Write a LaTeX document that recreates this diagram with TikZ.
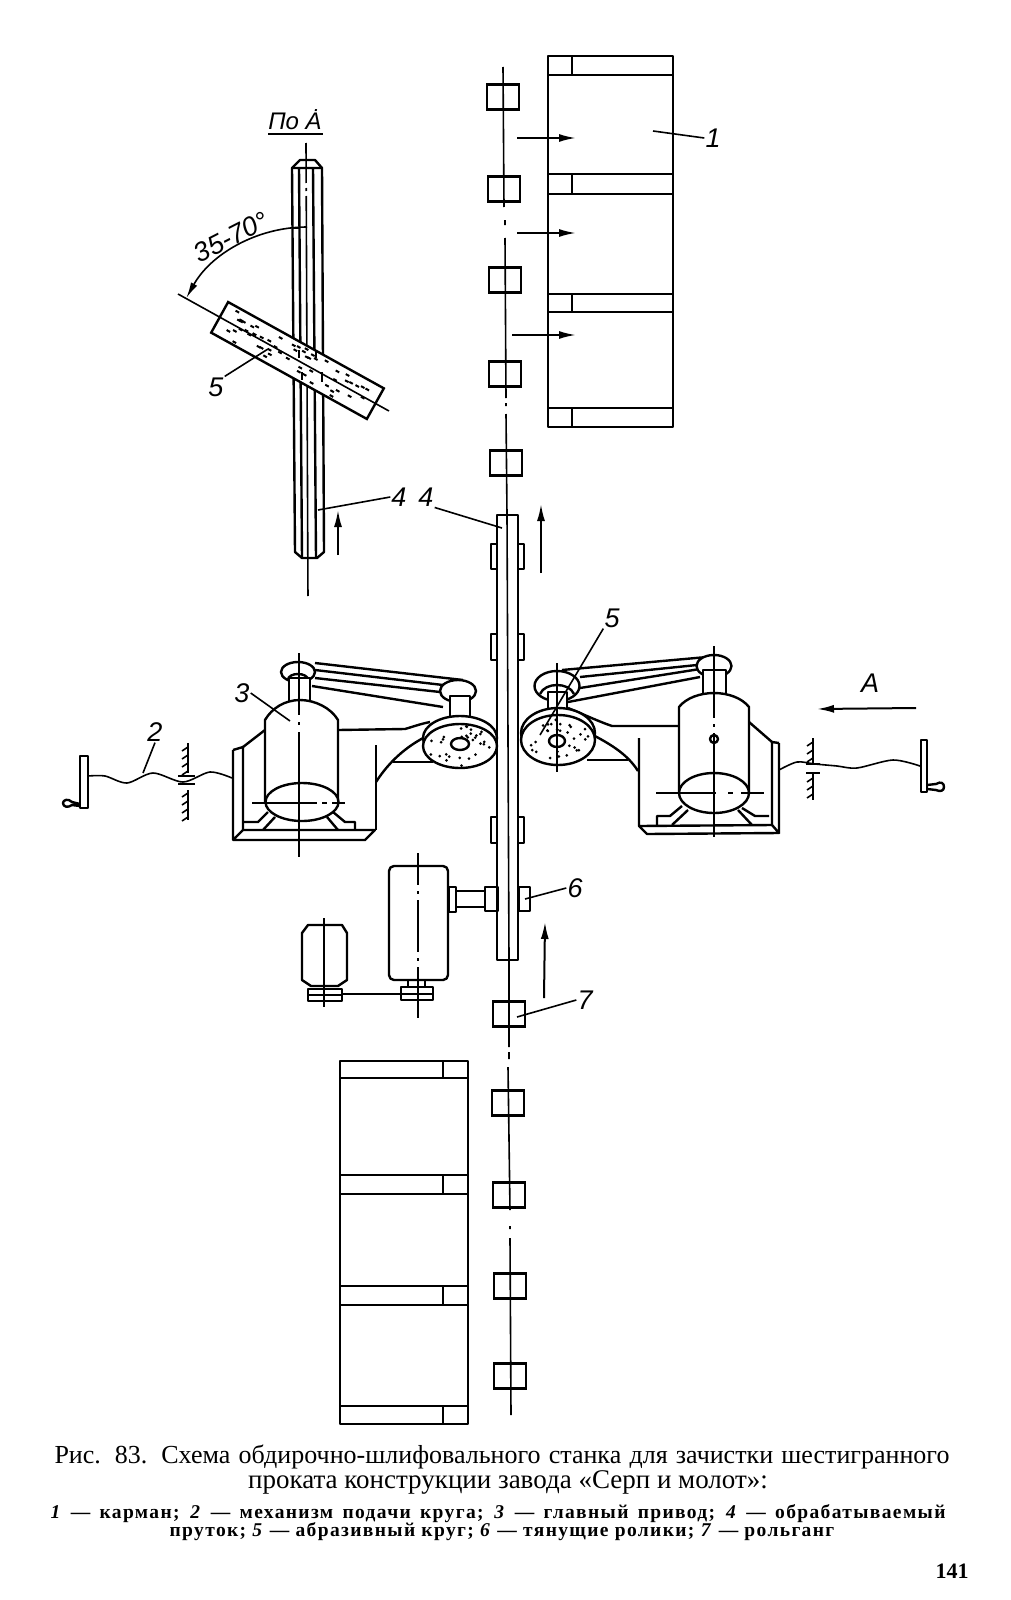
\documentclass[tikz,border=0pt]{standalone}
\usepackage{fontspec}
\setmainfont{Liberation Serif}
\newfontfamily\lblfont{Liberation Sans}
\newfontfamily\legfont[LetterSpace=7]{Liberation Serif}
\usetikzlibrary{arrows.meta}
\tikzstyle{part}=[line width=2.4pt,line join=round]
\tikzstyle{thin part}=[line width=1.6pt,line join=round]
\tikzstyle{roller}=[draw,line width=2.4pt,inner sep=0pt,minimum width=32pt,minimum height=25pt]
\tikzstyle{lbl}=[inner sep=1pt,font=\lblfont\itshape\fontsize{27}{27}\selectfont]
\tikzstyle{feed}=[-{Latex[length=17pt,width=8pt]},line width=2pt]
\newcommand{\grains}[4]{% centre x, centre y, half x, count
	\foreach \g in {1,...,#4}{
		\pgfmathsetmacro\ga{rnd*360}
		\pgfmathsetmacro\gr{.42+.55*rnd}
		\fill ({#1+#3*\gr*cos(\ga)},{#2+.62*#3*\gr*sin(\ga)}) circle (1.5pt);
	}
}
\begin{document}
\begin{tikzpicture}[x=1pt,y=-1pt]
	\useasboundingbox (0,0) rectangle (1010,1600);
	\pgfmathsetseed{83}
	% upper pockets
	\draw[part] (548,56) rectangle (673,427);
	\foreach \ya/\yb in {56/75,174/194,294/312,408/427}{
		\draw[part] (548,\ya) -- (673,\ya) (548,\yb) -- (673,\yb) (572,\ya) -- (572,\yb);
	}
	% lower pockets
	\draw[part] (340,1061) rectangle (468,1424);
	\foreach \ya/\yb in {1061/1078,1175/1194,1286/1305,1406/1424}{
		\draw[part] (340,\ya) -- (468,\ya) (340,\yb) -- (468,\yb) (443,\ya) -- (443,\yb);
	}
	% roller table
	\draw[thin part] (503,67) -- (504,207) (505,220) -- (505,225) (505,238) -- (506,398) (506,403) -- (506,406) (506,414) -- (507,515);
	\draw[thin part] (509,960) -- (509,1047) (509,1052) -- (509,1059) (508,1067) -- (510,1210) (510,1226) -- (510,1229) (510,1238) -- (511,1415);
	\foreach \n/\x/\y in {a/503/97,b/504/189,c/505/280,d/505/374,e/506/463,f/509/1014,g/508/1103,h/509/1195,i/510/1286,j/510/1376}{
		\node[roller] (roll\n) at (\x,\y) {};
	}
	% bar and its pads
	\draw[part,fill=white] (497,515) rectangle (518,960);
	\draw[thin part] (507,515) -- (509,960);
	\foreach \ya/\yb in {544/569,634/660,817/843}{
		\draw[part] (497,\ya) -- (491,\ya) -- (491,\yb) -- (497,\yb);
		\draw[part] (518,\ya) -- (524,\ya) -- (524,\yb) -- (518,\yb);
	}
	\draw[part] (485,887) rectangle (498,911);
	\draw[part] (519,887) rectangle (530,911);
	\draw[part] (456,891) rectangle (485,907);
	\draw[part] (449,887) rectangle (456,912);
	% drive under the bar
	\draw[part,rounded corners=5pt] (389,866) rectangle (448,980);
	\draw[part] (408,980) -- (408,987) (425,980) -- (425,987);
	\draw[part] (401,987) rectangle (433,1000);
	\draw[part] (401,994) -- (433,994);
	\draw[thin part,dash pattern=on 32pt off 6pt on 3pt off 6pt on 52pt off 6pt on 3pt off 6pt on 200pt] (418,853) -- (418,1018);
	\draw[part] (302,933) -- (308,925) -- (342,925) -- (347,933) -- (347,980) -- (338,986) -- (311,986) -- (302,980) -- cycle;
	\draw[part] (308,989) rectangle (342,1001);
	\draw[part] (308,995) -- (342,995);
	\draw[part] (342,994) -- (401,994);
	\draw[thin part] (324,918) -- (324,1007);
	% left head
	\draw[part] (233,750) -- (233,840) -- (365,840) -- (375,830) -- (243,830) -- (233,840);
	\draw[part] (233,750) -- (243,747) -- (243,830);
	\draw[part] (243,747) -- (265,730);
	\draw[part] (376,745) -- (376,830);
	\draw[part] (244,822) -- (258,822) -- (268,812) (263,830) -- (275,817) (327,817) -- (338,830) (333,812) -- (345,822) -- (355,822) -- (355,830);
	\draw[part] (338,730) -- (405,729) .. controls (412,727) and (420,724) .. (430,722);
	\draw[part] (376,782) .. controls (385,768) and (400,750) .. (425,737);
	\draw[part] (393,762) -- (433,762);
	\draw[part] (315,663) -- (463,680) (315,670) -- (443,685) (315,678) -- (440,692) (312,686) -- (443,707);
	\draw[part,fill=white] (298,672) ellipse (17 and 10);
	\draw[part] (288,680) .. controls (288,672) and (308,672) .. (308,680);
	\draw[part,fill=white] (289,702) -- (289,678) -- (310,678) -- (310,702);
	\draw[part,fill=white] (265,802) -- (265,720) .. controls (272,708) and (285,700) .. (300,700) .. controls (315,700) and (331,708) .. (338,720) -- (338,802);
	\draw[part,fill=white] (302,802) ellipse (36.5 and 19);
	\draw[part,fill=white] (458,691) ellipse (18 and 11);
	\draw[part,fill=white] (450,716) -- (450,696) -- (470,696) -- (470,716);
	\draw[part,fill=white] (460,738) ellipse (37 and 22);
	\draw[part,fill=white] (460,746) ellipse (37 and 22);
	\draw[part] (460,744) ellipse (9 and 6);
	\grains{460}{746}{34}{30}
	\draw[thin part,dash pattern=on 62pt off 7pt on 3pt off 7pt on 200pt] (299,653) -- (299,857);
	\draw[thin part,dash pattern=on 65pt off 5pt on 5pt off 5pt on 20pt] (252,803) -- (345,803);
	% left feed screw
	\draw[part] (80,756) rectangle (88,808);
	\draw[part] (80,804) -- (72,802) .. controls (68,798) and (63,800) .. (63,803) .. controls (63,807) and (68,808) .. (72,805) -- (80,806);
	\draw[thin part] plot[smooth] coordinates {(88,776) (105,776) (127,783) (153,773) (183,782) (210,772) (232,778)};
	\draw[thin part] (188,743) -- (188,773) (188,790) -- (188,820) (178,776) -- (195,776) (178,784) -- (195,784);
	\foreach \y in {747,755,763,771,793,801,809,817}{
		\draw[thin part] (188,\y) -- (182,\y+4);
	}
	% right head
	\draw[part] (639,738) -- (639,826) -- (647,834) -- (779,833) -- (772,825) -- (639,826);
	\draw[part] (772,742) -- (772,825) (779,743) -- (779,833) (772,742) -- (779,743);
	\draw[part] (749,722) -- (772,742);
	\draw[part] (657,825) -- (657,816) -- (670,816) -- (682,806) (672,825) -- (688,810) (742,808) -- (755,816) -- (769,816) (738,810) -- (752,825);
	\draw[part] (568,708) .. controls (585,715) and (600,722) .. (612,726) -- (679,726);
	\draw[part] (638,771) .. controls (628,755) and (612,745) .. (593,735);
	\draw[part] (587,760) -- (628,760);
	\draw[part] (562,670) -- (707,657) (580,677) -- (697,665) (580,688) -- (700,669) (568,702) -- (700,677);
	\draw[part,fill=white] (714,666) ellipse (17.5 and 11);
	\draw[part,fill=white] (703,695) -- (703,670) -- (726,670) -- (726,695);
	\draw[part,fill=white] (679,793) -- (679,707) .. controls (686,698) and (700,693) .. (714,693) .. controls (728,693) and (742,698) .. (749,707) -- (749,793);
	\draw[part,fill=white] (714,793) ellipse (35 and 20);
	\draw[part] (714,739) circle (4);
	\draw[part,fill=white] (557,686) ellipse (22.5 and 15);
	\draw[part] (540,694) .. controls (545,682) and (569,682) .. (574,694);
	\draw[part,fill=white] (548,711) -- (548,692) -- (567,692) -- (567,711);
	\draw[part,fill=white] (558,733) ellipse (37 and 25);
	\draw[part,fill=white] (558,740) ellipse (37 and 25);
	\draw[part] (557,741) ellipse (8 and 6);
	\grains{558}{740}{34}{30}
	\draw[thin part] (557,663) -- (557,772);
	\draw[thin part,dash pattern=on 72pt off 6pt on 3pt off 6pt on 200pt] (714,646) -- (714,837);
	\draw[thin part,dash pattern=on 60pt off 12pt on 5pt off 8pt on 30pt] (656,793) -- (764,793);
	% right feed screw
	\draw[part] (921,740) rectangle (927,792);
	\draw[part] (927,785) -- (936,784) .. controls (941,781) and (944,783) .. (944,787) .. controls (944,791) and (940,792) .. (936,790) -- (927,789);
	\draw[thin part] plot[smooth] coordinates {(779,770) (797,762) (815,764) (837,766) (857,768) (893,760) (920,766)};
	\draw[thin part] (813,738) -- (813,763) (813,773) -- (813,800) (806,764) -- (820,764) (806,773) -- (820,773);
	\foreach \y in {742,750,758,778,786,794}{
		\draw[thin part] (813,\y) -- (807,\y+4);
	}
	% view along A
	\draw[part,fill=white] (292,168) -- (300,160) -- (315,160) -- (322,168) -- (324,552) -- (317,558) -- (302,558) -- (295,552) -- cycle;
	\draw[part] (292,168) -- (322,168) (299,168) -- (302,558) (313,168) -- (316,558);
	\draw[thin part,dash pattern=on 40pt off 5pt on 3pt off 5pt on 400pt] (306,143) -- (308,602);
	\node[draw,line width=2.4pt,fill=white,rotate=-29,inner sep=0pt,minimum width=178pt,minimum height=35pt] (grinder) at (297.5,360.5) {};
	\begin{scope}[shift={(297.5,360.5)},rotate=-29]
		\foreach \g in {1,...,55}{
			\pgfmathsetmacro\gx{-84+168*rnd}
			\pgfmathsetmacro\gy{-15+30*rnd}
			\fill (\gx,\gy) ++(-2,-1) rectangle ++(4,2);
		}
	\end{scope}
	\draw[thin part] (178,294) -- (389,411);
	\draw[thin part] (299,350) -- (299,358) (302,372) -- (302,380) (316,350) -- (316,358) (322,372) -- (322,382);
	\draw[-{Latex[length=16pt,width=7pt]},line width=1.6pt] (307,227) arc[start angle=-90,end angle=-151,radius=138];
	\draw[line width=2.5pt] (292,228) -- (300,228);
	\node[lbl,rotate=27] (lblangle) at (231,237) {35-70°};
	\node[lbl,font=\lblfont\itshape\fontsize{24}{24}\selectfont] (lblview) at (295,120) {По Ȧ};
	\coordinate (viewl) at (268,134);
	\coordinate (viewr) at (323,134);
	\draw[thin part] (viewl) -- (viewr);
	% feed arrows
	\draw[feed] (517,138) -- (576,138);
	\draw[feed] (517,233) -- (576,233);
	\draw[feed] (512,335) -- (576,335);
	\draw[feed] (338,555) -- (338,510);
	\draw[feed] (541,573) -- (541,504);
	\draw[feed] (544,998) -- (545,922);
	\draw[feed] (916,708) -- (817,709);
	% labels and their leaders
	\node[lbl] (lblone) at (713,138) {1};
	\node[lbl] (lbltwo) at (155,732) {2};
	\node[lbl] (lblthree) at (242,693) {3};
	\node[lbl] (lblfourb) at (399,497) {4};
	\node[lbl] (lblfoura) at (426,497) {4};
	\node[lbl] (lblfiveb) at (216,387) {5};
	\node[lbl] (lblfivea) at (612,618) {5};
	\node[lbl] (lblsix) at (575,888) {6};
	\node[lbl] (lblseven) at (585,1000) {7};
	\node[lbl] (lblA) at (870,683) {A};
	\coordinate (tipone) at (653,131);
	\coordinate (tiptwo) at (143,773);
	\coordinate (tipthree) at (290,721);
	\coordinate (tipfourb) at (318,510);
	\coordinate (tipfoura) at (502,528);
	\coordinate (tipfiveb) at (268,349);
	\coordinate (tipfivea) at (540,735);
	\coordinate (tipsix) at (525,899);
	\coordinate (tipseven) at (517,1017);
	\path[thin part]
		(tipone)	edge	(lblone.west)
		(tiptwo)	edge	(lbltwo.south)
		(tipthree)	edge	(lblthree.east)
		(tipfourb)	edge	(lblfourb.west)
		(tipfoura)	edge	(lblfoura.south east)
		(tipfiveb)	edge	(lblfiveb.north east)
		(tipfivea)	edge	(lblfivea.south west)
		(tipsix)	edge	(lblsix.west)
		(tipseven)	edge	(lblseven.west);
	% caption
	\node[inner sep=0pt,font=\fontsize{26}{26}\selectfont] (caption) at (502,1457) {\makebox[895pt][s]{Рис. 83. Схема обдирочно-шлифовального станка для зачистки шестигранного}};
	\node[inner sep=0pt,font=\fontsize{27}{27}\selectfont] (captionb) at (508,1482) {проката конструкции завода «Серп и молот»:};
	\node[inner sep=0pt,font=\legfont\bfseries\fontsize{19.5}{19.5}\selectfont] (legend) at (498,1514) {\makebox[895pt][s]{\textit{1} — карман; \textit{2} — механизм подачи круга; \textit{3} — главный привод; \textit{4} — обрабатываемый}};
	\node[inner sep=0pt,font=\legfont\bfseries\fontsize{19.5}{19.5}\selectfont] (legendb) at (502,1532) {пруток; \textit{5} — абразивный круг; \textit{6} — тянущие ролики; \textit{7} — рольганг};
	\node[inner sep=0pt,font=\bfseries\fontsize{22}{22}\selectfont] (pagenum) at (952,1571) {141};
\end{tikzpicture}
\end{document}
